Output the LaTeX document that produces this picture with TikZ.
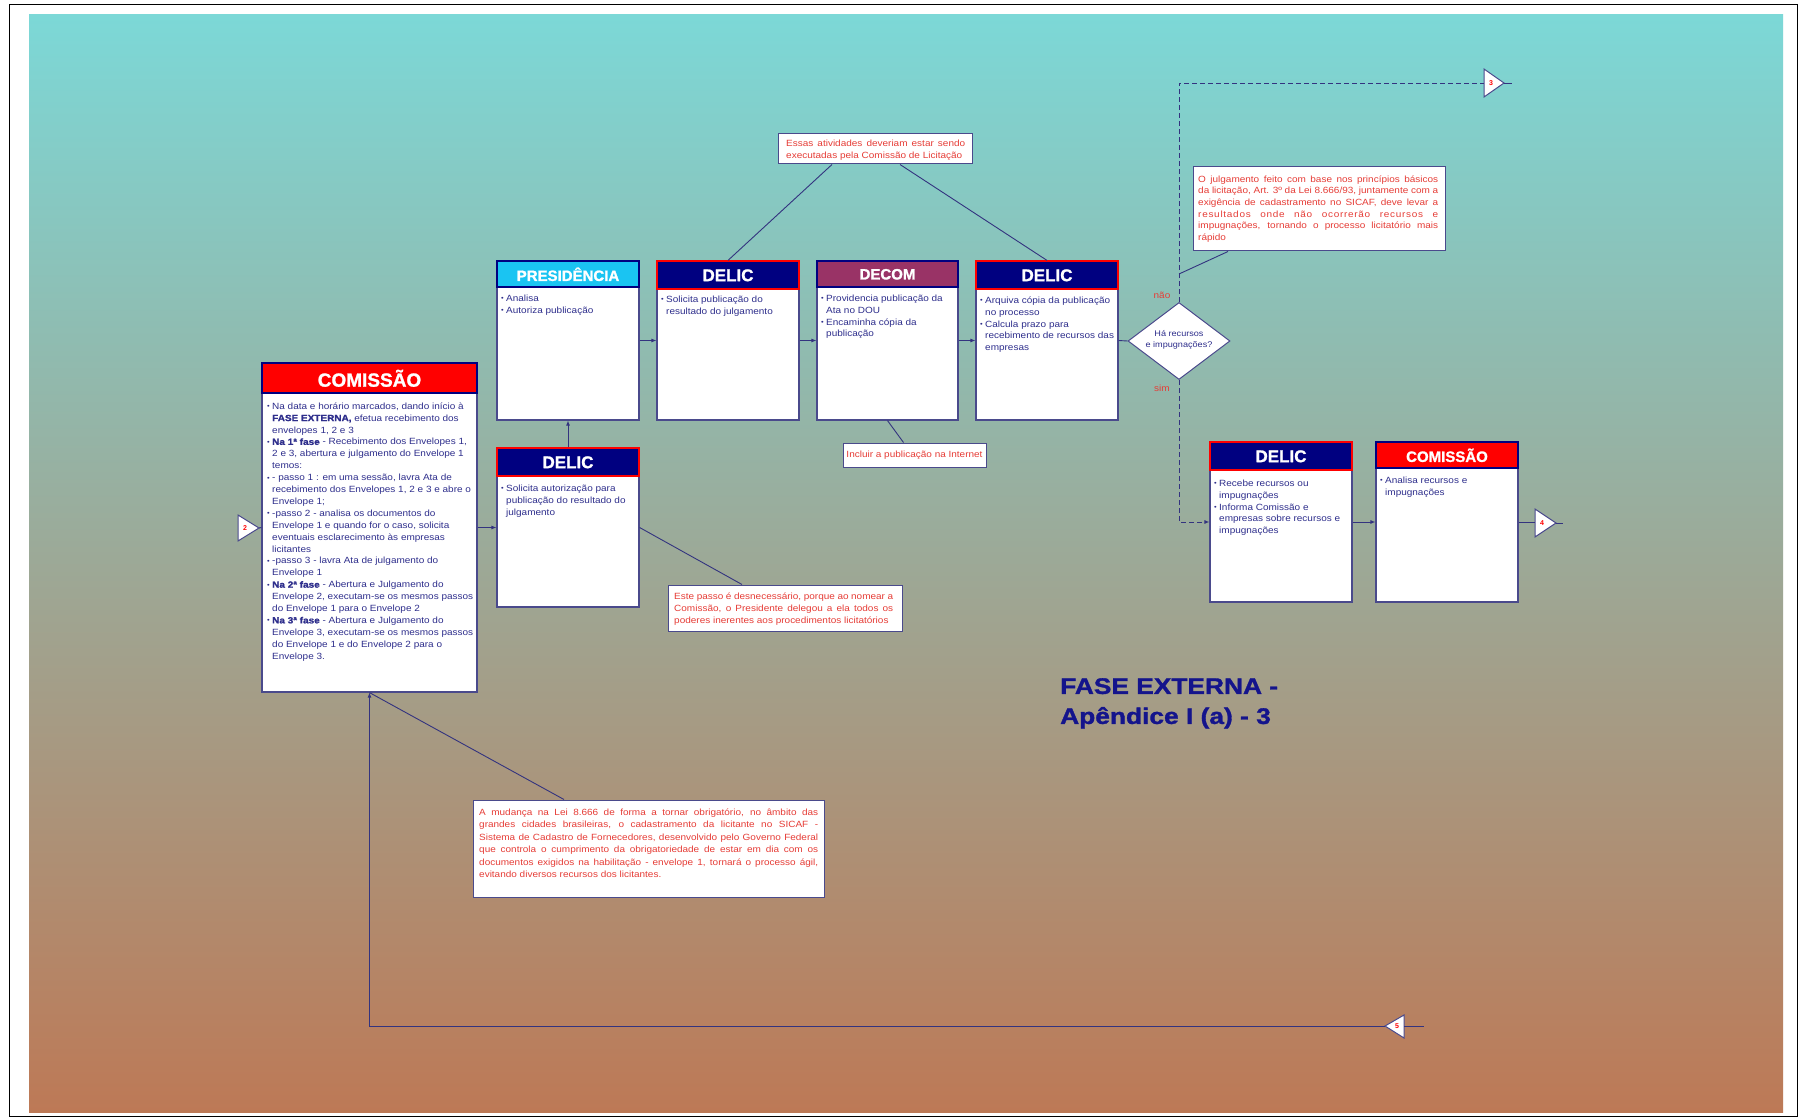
\documentclass[tikz,border=0pt]{standalone}
\usepackage{fontspec}
\usepackage{graphicx}
\setmainfont{Liberation Sans}
\newfontfamily\bodyf[FakeStretch=1.11, BoldFeatures={FakeBold=1.2}]{Liberation Sans}
\newfontfamily\hvf[BoldFeatures={FakeBold=1.3}]{Liberation Sans}
\newfontfamily\ttlf[FakeStretch=1.17, BoldFeatures={FakeBold=1.4}]{Liberation Sans}
\usetikzlibrary{shapes.geometric,arrows.meta}
\definecolor{bgtop}{HTML}{7CD8D7}
\definecolor{bgmid}{HTML}{A2A792}
\definecolor{bgbot}{HTML}{BD7956}
\definecolor{hnavy}{HTML}{000080}
\definecolor{hred}{HTML}{FF0000}
\definecolor{hcyan}{HTML}{1AC4F2}
\definecolor{hmaroon}{HTML}{993366}
\definecolor{boxline}{HTML}{4A4A8C}
\definecolor{navytext}{HTML}{2E2E8C}
\definecolor{redtext}{HTML}{E63C36}
\definecolor{lncol}{HTML}{33337F}
\definecolor{titlec}{HTML}{14148C}
\newcommand{\bul}{\makebox[5pt][l]{\raisebox{0.6pt}{\scalebox{0.75}{•}}}}
\newcommand{\indl}{\hspace*{5pt}}
\begin{document}
\begin{tikzpicture}[x=1pt,y=-1pt,
  boxb/.style={draw=boxline, fill=white, line width=1.2pt, inner sep=0, rectangle},
  hdrbase/.style={anchor=north, inner sep=0, text=white, line width=1.8pt, rectangle},
  hdrN/.style={hdrbase, fill=hnavy, draw=hred},
  hdrR/.style={hdrbase, fill=hred, draw=hnavy},
  hdrC/.style={hdrbase, fill=hcyan, draw=hnavy},
  hdrM/.style={hdrbase, fill=hmaroon, draw=hnavy},
  bt/.style={anchor=north west, inner sep=0, align=left, text=navytext, font=\bodyf\fontsize{9}{11.9}\selectfont},
  ct/.style={anchor=north west, inner sep=0, align=justify, text=redtext, font=\bodyf\fontsize{9}{12}\selectfont},
  cbox/.style={draw=boxline, fill=white, line width=1pt, inner sep=0, rectangle},
  ln/.style={draw=lncol, line width=0.9pt},
  arr/.style={ln, -{Latex[length=5pt,width=4pt]}},
  dsh/.style={ln, dash pattern=on 5pt off 3pt},
  mk/.style={draw=boxline, fill=white, line width=1pt, line join=miter},
  num/.style={text=red, font=\bfseries\fontsize{7}{7}\selectfont, inner sep=0},
  lab/.style={text=redtext, font=\bodyf\fontsize{9}{10}\selectfont, inner sep=0}
]
\useasboundingbox (0,0) rectangle (1805,1118);
\fill[white] (0,0) rectangle (1805,1118);
\shade[top color=bgtop, middle color=bgmid, bottom color=bgbot] (29,15) rectangle (1783,1112);
\draw[black, line width=1pt] (9,5) rectangle (1797,1116);

% ---------- boxes ----------
\node[boxb, minimum width=215pt, minimum height=329pt] (com) at (369.5,527.5) {};
\node[hdrR, minimum width=215pt, minimum height=30pt, font=\hvf\bfseries\fontsize{19}{19}\selectfont] (comH) at (com.north) {COMISSÃO};

\node[boxb, minimum width=142pt, minimum height=159pt] (pres) at (568,340.5) {};
\node[hdrC, minimum width=142pt, minimum height=26pt, font=\hvf\bfseries\fontsize{15}{15}\selectfont] (presH) at (pres.north) {PRESIDÊNCIA};

\node[boxb, minimum width=142pt, minimum height=159pt] (dl2) at (728,340.5) {};
\node[hdrN, minimum width=142pt, minimum height=28pt, font=\hvf\bfseries\fontsize{17}{17}\selectfont] (dl2H) at (dl2.north) {DELIC};

\node[boxb, minimum width=141pt, minimum height=159pt] (decom) at (887.5,340.5) {};
\node[hdrM, minimum width=141pt, minimum height=26pt, font=\hvf\bfseries\fontsize{15}{15}\selectfont] (decomH) at (decom.north) {DECOM};

\node[boxb, minimum width=142pt, minimum height=159pt] (dl4) at (1047,340.5) {};
\node[hdrN, minimum width=142pt, minimum height=28pt, font=\hvf\bfseries\fontsize{17}{17}\selectfont] (dl4H) at (dl4.north) {DELIC};

\node[boxb, minimum width=142pt, minimum height=159pt] (dlL) at (568,527.5) {};
\node[hdrN, minimum width=142pt, minimum height=28pt, font=\hvf\bfseries\fontsize{17}{17}\selectfont] (dlLH) at (dlL.north) {DELIC};

\node[boxb, minimum width=142pt, minimum height=160pt] (dlR) at (1281,522) {};
\node[hdrN, minimum width=142pt, minimum height=28pt, font=\hvf\bfseries\fontsize{17}{17}\selectfont] (dlRH) at (dlR.north) {DELIC};

\node[boxb, minimum width=142pt, minimum height=160pt] (comR) at (1447,522) {};
\node[hdrR, minimum width=142pt, minimum height=26pt, font=\hvf\bfseries\fontsize{15}{15}\selectfont] (comRH) at (comR.north) {COMISSÃO};

% ---------- box texts ----------
\node[bt] (comT) at (267,401) {\rule{0pt}{8pt}\bul Na data e horário marcados,  dando início à\\
\indl{\bfseries FASE EXTERNA,} efetua recebimento dos\\
\indl envelopes 1, 2 e 3\\
\bul{\bfseries Na 1ª fase} - Recebimento dos Envelopes 1,\\
\indl 2 e 3,  abertura e julgamento do Envelope 1\\
\indl temos:\\
\bul- passo 1 : em uma sessão, lavra Ata de\\
\indl recebimento dos Envelopes 1, 2 e 3 e abre o\\
\indl Envelope 1;\\
\bul-passo 2 - analisa  os documentos do\\
\indl Envelope 1 e quando for o caso, solicita\\
\indl eventuais esclarecimento às empresas\\
\indl licitantes\\
\bul-passo 3 - lavra Ata de julgamento do\\
\indl Envelope  1\\
\bul{\bfseries Na 2ª fase} - Abertura e Julgamento do\\
\indl Envelope 2, executam-se os mesmos passos\\
\indl do Envelope 1 para o Envelope 2\\
\bul{\bfseries Na 3ª fase} - Abertura e Julgamento do\\
\indl Envelope 3, executam-se os mesmos passos\\
\indl do Envelope 1 e do Envelope 2 para o\\
\indl Envelope 3.};

\node[bt] (presT) at (501,293) {\rule{0pt}{8pt}\bul Analisa\\\bul Autoriza publicação};
\node[bt] (dl2T) at (661,294) {\rule{0pt}{8pt}\bul Solicita publicação do\\\indl resultado do julgamento};
\node[bt] (decomT) at (821,293) {\rule{0pt}{8pt}\bul Providencia publicação da\\\indl Ata no DOU\\\bul Encaminha cópia da\\\indl publicação};
\node[bt] (dl4T) at (980,295) {\rule{0pt}{8pt}\bul Arquiva cópia da publicação\\\indl no processo\\\bul Calcula prazo para\\\indl recebimento de recursos das\\\indl empresas};
\node[bt] (dlLT) at (501,483) {\rule{0pt}{8pt}\bul Solicita autorização para\\\indl publicação do resultado do\\\indl julgamento};
\node[bt] (dlRT) at (1214,478) {\rule{0pt}{8pt}\bul Recebe recursos ou\\\indl impugnações\\\bul Informa Comissão e\\\indl empresas sobre recursos e\\\indl impugnações};
\node[bt] (comRT) at (1380,475) {\rule{0pt}{8pt}\bul Analisa recursos e\\\indl impugnações};

% ---------- decision ----------
\node[diamond, draw=boxline, fill=white, line width=1pt, inner sep=0, minimum width=102pt, minimum height=77pt] (dia) at (1179,341) {};
\node[text=navytext, font=\bodyf\fontsize{8.2}{11.5}\selectfont, align=center, inner sep=0] (diaT) at (1179,340) {Há recursos\\e impugnações?};
\node[lab] (nao) at (1162,295) {não};
\node[lab] (sim) at (1162,388) {sim};

% ---------- callouts ----------
\node[cbox, minimum width=194pt, minimum height=30pt] (c1) at (875,149) {};
\node[ct, text width=179pt] (c1T) at (786,138) {\rule{0pt}{8pt}Essas atividades deveriam estar sendo\linebreak executadas pela Comissão de Licitação};

\node[cbox, minimum width=143pt, minimum height=24pt] (c2) at (914.5,455) {};
\node[text=redtext, font=\bodyf\fontsize{9}{10}\selectfont, inner sep=0] (c2T) at (914.5,455) {Incluir a publicação na Internet};

\node[cbox, minimum width=234pt, minimum height=46pt] (c3) at (785,608) {};
\node[ct, text width=219pt] (c3T) at (674,591) {\rule{0pt}{8pt}Este passo é desnecessário, porque ao nomear a\linebreak Comissão, o Presidente delegou a ela todos os\linebreak poderes inerentes aos procedimentos licitatórios};

\node[cbox, minimum width=252pt, minimum height=84pt] (c4) at (1319,209) {};
\node[ct, text width=240pt, font=\bodyf\fontsize{9}{11.7}\selectfont] (c4T) at (1198,174) {\rule{0pt}{8pt}O julgamento feito com base nos princípios básicos\linebreak da licitação, Art. 3º da Lei 8.666/93, juntamente com a\linebreak exigência de cadastramento no SICAF,  deve levar a\linebreak {\addfontfeatures{LetterSpace=8}resultados onde não ocorrerão recursos e}\linebreak impugnações, tornando o processo licitatório mais\linebreak rápido};

\node[cbox, minimum width=351pt, minimum height=97pt] (c5) at (648.5,848.5) {};
\node[ct, text width=339pt, font=\bodyf\fontsize{9}{12.5}\selectfont] (c5T) at (479,807) {\rule{0pt}{8pt}A mudança na Lei 8.666 de forma a tornar obrigatório, no âmbito das\linebreak grandes cidades brasileiras, o cadastramento da licitante no SICAF -\linebreak Sistema de Cadastro de Fornecedores, desenvolvido pelo Governo Federal\linebreak que controla o cumprimento da obrigatoriedade de estar em dia com os\linebreak documentos exigidos na habilitação - envelope 1, tornará o processo ágil,\linebreak evitando diversos recursos dos licitantes.};

% ---------- title ----------
\node[anchor=north west, inner sep=0, text=titlec, align=left, font=\ttlf\bfseries\fontsize{22.5}{30}\selectfont] (title) at (1060,678) {FASE EXTERNA -\\Apêndice I (a) - 3};

% ---------- off-page markers ----------
\coordinate (t2a) at (238,515); \coordinate (t2b) at (238,541); \coordinate (t2tip) at (259,528);
\draw[mk] (t2a) -- (t2tip) -- (t2b) -- cycle;
\node[num] (n2) at (245,528) {2};

\coordinate (t3a) at (1484,69); \coordinate (t3b) at (1484,97); \coordinate (t3tip) at (1504,83);
\coordinate (t3in) at (1484,83); \coordinate (t3end) at (1512,83);
\draw[mk] (t3a) -- (t3tip) -- (t3b) -- cycle;
\node[num] (n3) at (1491,83) {3};

\coordinate (t4a) at (1535,509); \coordinate (t4b) at (1535,537); \coordinate (t4tip) at (1556,523);
\coordinate (t4in) at (1535,522); \coordinate (t4end) at (1563,523);
\draw[mk] (t4a) -- (t4tip) -- (t4b) -- cycle;
\node[num] (n4) at (1542,523) {4};

\coordinate (t5a) at (1404,1015); \coordinate (t5b) at (1404,1038); \coordinate (t5tip) at (1385,1026);
\coordinate (t5base) at (1404,1026); \coordinate (t5end) at (1424,1026);
\draw[mk] (t5a) -- (t5tip) -- (t5b) -- cycle;
\node[num] (n5) at (1397,1026) {5};

% ---------- connectors ----------
\draw[ln] (t2tip) -- (com.west);
\draw[arr] (com.east) -- (dlL.west);
\draw[arr] (dlL.north) -- (pres.south);
\draw[arr] (pres.east) -- (dl2.west);
\draw[arr] (dl2.east) -- (decom.west);
\draw[arr] (decom.east) -- (dl4.west);
\draw[ln] (dl4.east) -- (dia.west);
\draw[dsh] (dia.north) |- (t3in);
\draw[ln] (t3tip) -- (t3end);
\draw[dsh, -{Latex[length=5pt,width=4pt]}] (dia.south) |- (dlR.west);
\draw[arr] (dlR.east) -- (comR.west);
\draw[ln] (comR.east) -- (t4in);
\draw[ln] (t4tip) -- (t4end);
\draw[ln] (t5base) -- (t5end);
\draw[arr] (t5tip) -| (com.south);

% callout leaders
\coordinate (j4) at (1179,274);
\draw[ln] ([xshift=-43pt]c1.south) -- (dl2.north);
\draw[ln] ([xshift=25pt]c1.south) -- (dl4.north);
\draw[ln] ([xshift=-11pt]c2.north) -- (decom.south);
\draw[ln] ([xshift=-43pt]c3.north) -- (dlL.east);
\draw[ln] ([xshift=-91pt]c4.south) -- (j4);
\draw[ln] ([xshift=-84.5pt]c5.north) -- (com.south);
\end{tikzpicture}
\end{document}
